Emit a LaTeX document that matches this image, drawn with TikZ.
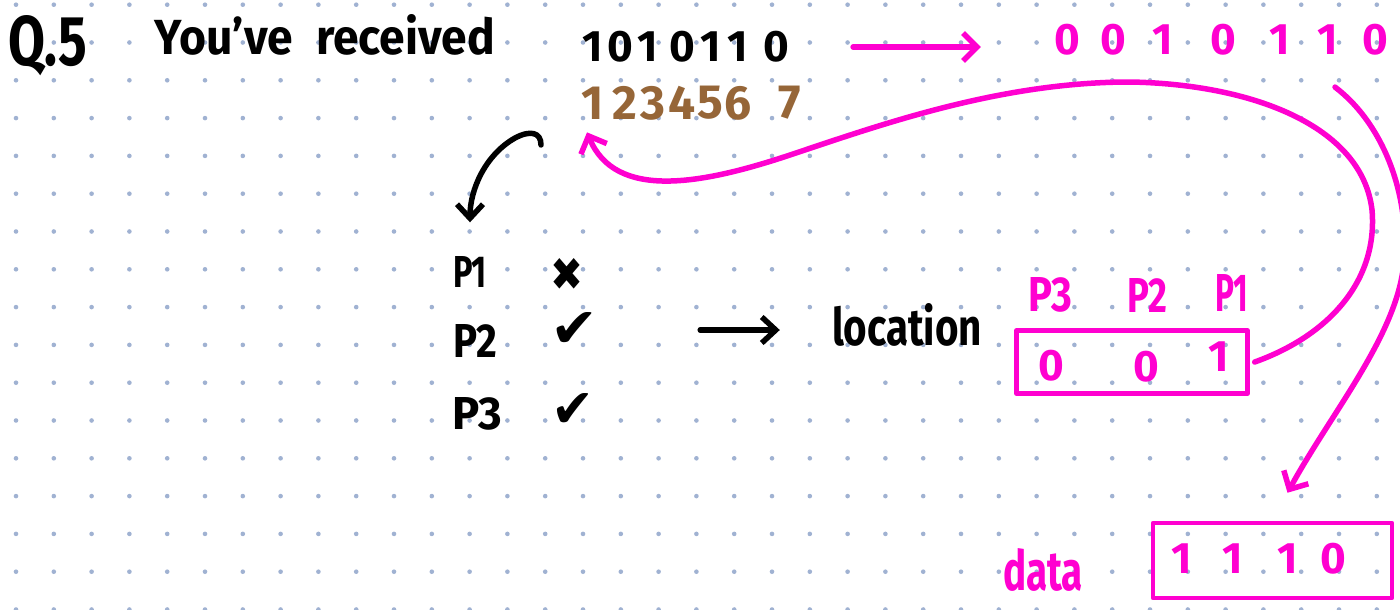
\documentclass[tikz,border=0pt]{standalone}
\usepackage{fontspec}
\setmainfont{Fira Sans}
\newfontfamily\symfont{DejaVu Sans}
\usetikzlibrary{arrows.meta}
\definecolor{mag}{RGB}{255,0,208}
\definecolor{brn}{RGB}{150,102,56}
\definecolor{griddot}{RGB}{160,178,210}
\begin{document}
\begin{tikzpicture}[x=1pt,y=-1pt,line cap=round,line join=round,
 txt/.style={inner sep=0pt, font=\bfseries},
 blkdig/.style={inner sep=0pt, font=\bfseries\fontsize{44}{44}\selectfont},
 brndig/.style={inner sep=0pt, text=brn, font=\bfseries\fontsize{48}{48}\selectfont},
 magdig/.style={inner sep=0pt, text=mag, font=\bfseries\fontsize{44}{44}\selectfont},
 magtxt/.style={txt, text=mag},
 mline/.style={draw=mag, line width=5.5pt},
 marr/.style={mline, -{Straight Barb[length=14pt,width=28pt]}},
 barr/.style={draw=black, line width=5.5pt, -{Straight Barb[length=14pt,width=26pt]}},
 mbox/.style={draw=mag, line width=4.5pt, inner sep=0pt},
]
\useasboundingbox (0,0) rectangle (1400,610);
\fill[white] (0,0) rectangle (1400,610);
\clip (0,0) rectangle (1400,610);
% dot grid
\foreach \i in {0,...,36}{\foreach \j in {0,...,16}{
  \fill[griddot] (16+37.8*\i, 4.7+37.8*\j) circle (2.3);}}

% header
\node[txt] (q5) at (48,46) {\resizebox{78pt}{50pt}{Q.5}};
\node[txt] (recv) at (325,35) {\resizebox{340pt}{40pt}{You've\hspace{0.5em}received}};

% received word
\foreach \d/\x [count=\i] in {1/593,0/620,1/648,0/682,1/711,1/738,0/776}
  \node[blkdig] (r\i) at (\x,47) {\d};
% positions
\foreach \d/\x [count=\i] in {1/593,2/625,3/653,4/682,5/710,6/738,7/790}
  \node[brndig] (b\i) at (\x,103) {\d};
% corrected word
\foreach \d/\x [count=\i] in {0/1067,0/1113,1/1163,0/1223,1/1280,1/1328,0/1375}
  \node[magdig] (c\i) at (\x,40) {\d};

% parity checks
\node[txt] (p1) at (470,272) {\resizebox{34pt}{31pt}{P1}};
\node[txt] (p2) at (475,341) {\resizebox{44pt}{33pt}{P2}};
\node[txt] (p3) at (477,414) {\resizebox{50pt}{32pt}{P3}};
\node[inner sep=0pt] (ck1) at (567,274) {\resizebox{33pt}{32pt}{\symfont ✖}};
\node[inner sep=0pt] (ck2) at (574,330) {\resizebox{48pt}{35pt}{\symfont ✔}};
\node[inner sep=0pt] (ck3) at (573,410) {\resizebox{43pt}{34pt}{\symfont ✔}};

\node[txt] (loc) at (907,325) {\resizebox{150pt}{42pt}{location}};

% location box
\node[magtxt] (lp3) at (1050,295) {\resizebox{44pt}{34pt}{P3}};
\node[magtxt] (lp2) at (1147,295) {\resizebox{40pt}{34pt}{P2}};
\node[magtxt] (lp1) at (1232,293) {\resizebox{33pt}{37pt}{P1}};
\node[mbox, minimum width=231pt, minimum height=63pt] (pbox) at (1132,362) {};
\node[magdig] (pb3) at (1051,366) {0};
\node[magdig] (pb2) at (1146,367) {0};
\node[magdig] (pb1) at (1219,357) {1};

% data box
\node[magtxt] (data) at (1043,570) {\resizebox{80pt}{42pt}{data}};
\node[mbox, minimum width=239pt, minimum height=75pt] (dbox) at (1272.5,560.5) {};
\foreach \d/\x [count=\i] in {1/1182,1/1233,1/1288,0/1333}
  \node[magdig] (d\i) at (\x,559) {\d};

% connectors
\draw[marr, shorten <=64pt, shorten >=73pt] (r7.east) -- (r7.east -| c1.west);
\coordinate (bs) at (541,145);
\draw[barr, shorten >=34pt] (bs) .. controls (541,132) and (530,130) .. (515,138)
  .. controls (485,155) and (470,190) .. (p1.north);
\draw[barr, shorten <=102pt, shorten >=52pt] (ck2.east) -- (ck2.east -| loc.west);
\draw[marr, shorten >=14pt] ([xshift=5pt]pbox.east)
  .. controls (1330,335) and (1378,280) .. (1372,210)
  .. controls (1362,125) and (1250,84) .. (1130,82)
  .. controls (1000,82) and (880,125) .. (790,155)
  .. controls (700,185) and (615,200) .. (b1.south west);
\draw[marr] ([shift={(7pt,-32pt)}]c6.south)
  .. controls (1385,125) and (1412,200) .. (1403,270)
  .. controls (1393,340) and (1330,415) .. ([shift={(15pt,28pt)}]dbox.north);
\end{tikzpicture}
\end{document}
